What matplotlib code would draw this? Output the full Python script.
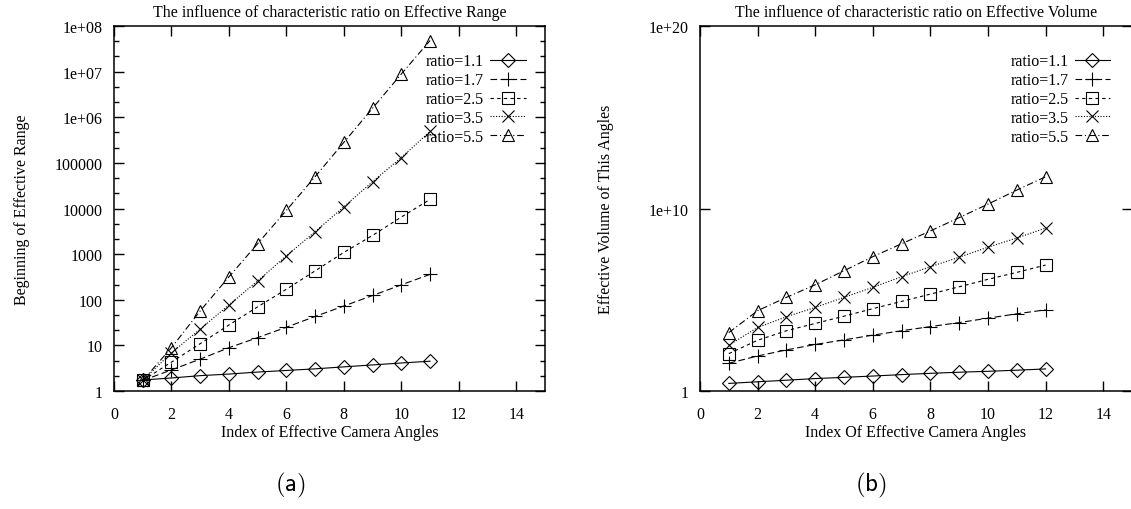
import numpy as np
import matplotlib
matplotlib.use('Agg')
import matplotlib.pyplot as plt
from matplotlib.ticker import FixedLocator, NullFormatter

plt.rcParams['font.family'] = ['Liberation Serif', 'DejaVu Serif']
plt.rcParams['axes.unicode_minus'] = False
plt.rcParams['mathtext.fontset'] = 'cm'

# --- data ---
ratios = ['ratio=1.1', 'ratio=1.7', 'ratio=2.5', 'ratio=3.5', 'ratio=5.5']

# (a) beginning of effective range
idx_a = [1, 2, 3, 4, 5, 6, 7, 8, 9, 10, 11]
range_11 = [1.74, 1.93, 2.17, 2.35, 2.6, 2.82, 3.06, 3.38, 3.73, 4.11, 4.5]
range_17 = [1.7, 2.9, 5.0, 8.9, 14.8, 25, 43, 73, 124, 212, 360]
range_25 = [1.7, 4.3, 10.9, 28, 70, 170, 430, 1090, 2570, 6500, 15800]
range_35 = [1.7, 6.9, 22.6, 77, 259, 917, 3100, 10900, 38700, 131000, 488000]
range_55 = [1.7, 8.9, 57, 318, 1700, 9100, 50000, 282000, 1.58e6, 8.9e6, 4.8e7]

# (b) effective volume
idx_b = [1, 2, 3, 4, 5, 6, 7, 8, 9, 10, 11, 12]
vol_11 = [2.6, 3.2, 3.9, 4.8, 5.6, 6.6, 7.9, 9.3, 10.7, 12.0, 13.8, 16.2]
vol_17 = [33, 83, 178, 355, 631, 1150, 2000, 3390, 5620, 9770, 1.7e4, 2.8e4]
vol_25 = [112, 603, 2000, 5010, 1.26e4, 3.24e4, 8.13e4, 2.04e5, 5.13e5, 1.32e6, 3.16e6, 7.94e6]
vol_35 = [324, 3020, 1.17e4, 3.8e4, 1.35e5, 4.79e5, 1.82e6, 6.46e6, 2.14e7, 7.6e7, 2.4e8, 8.5e8]
vol_55 = [1580, 2.51e4, 1.35e5, 6.61e5, 3.89e6, 2.29e7, 1.17e8, 5.9e8, 3.16e9, 1.74e10, 1.02e11, 5.5e11]

ytick_a = [1, 10, 100, 1000, 1e4, 1e5, 1e6, 1e7, 1e8]
ytick_a_lbl = ['1', '10', '100', '1000', '10000', '100000', '1e+06', '1e+07', '1e+08']
ytick_b = [1, 1e10, 1e20]
ytick_b_lbl = ['1', '1e+10', '1e+20']
xticks = [0, 2, 4, 6, 8, 10, 12, 14]

# gnuplot-ish styles
styles = [
    dict(marker='D', ms=7, ls='-'),
    dict(marker='+', ms=10, ls=(0, (6, 3))),
    dict(marker='s', ms=8.5, ls=(0, (3, 3))),
    dict(marker='x', ms=8.5, ls=(0, (1, 1.5))),
    dict(marker='^', ms=8.5, ls=(0, (6, 2.5, 1, 2.5))),
]

fs_tick = 11.5
fs_lab = 11.5
fs_title = 11.4

fig = plt.figure(figsize=(11.31, 5.10), dpi=100)
ax1 = fig.add_axes([114 / 1131, 1 - 392 / 510, 431 / 1131, 365 / 510])
ax2 = fig.add_axes([700 / 1131, 1 - 392 / 510, 432 / 1131, 365 / 510])


def draw(ax, xs, series, leg_x):
    for ys, lab, st in zip(series, ratios, styles):
        ax.plot(xs, ys, color='black', lw=0.8, mfc='none', mec='black', mew=0.8,
                marker=st['marker'], ms=st['ms'], ls=st['ls'], label=lab)
    ax.set_yscale('log')
    ax.set_xlim(0, 15)
    ax.set_xticks(xticks)
    ax.set_xticklabels([str(t) for t in xticks])
    ax.tick_params(which='both', direction='in', top=True, right=True,
                   labelsize=fs_tick, width=1.0)
    ax.tick_params(axis='x', which='major', length=7.5, pad=11)
    ax.tick_params(axis='y', which='major', length=7.5, pad=8)
    ax.tick_params(which='minor', length=3.5)
    for s in ax.spines.values():
        s.set_linewidth(1.1)
    ax.legend(loc='upper right', bbox_to_anchor=(leg_x, 0.925), frameon=False,
              markerfirst=False, fontsize=fs_lab, handlelength=2.2, handletextpad=0.4,
              labelspacing=0.18, borderpad=0, borderaxespad=0)


draw(ax1, idx_a, [range_11, range_17, range_25, range_35, range_55], 0.955)
ax1.set_ylim(1, 1e8)
ax1.set_yticks(ytick_a)
ax1.set_yticklabels(ytick_a_lbl)
minor_a = [10 ** (d + k / 3) for d in range(8) for k in (1, 2)]
ax1.yaxis.set_minor_locator(FixedLocator(minor_a))
ax1.yaxis.set_minor_formatter(NullFormatter())
ax1.set_title('The influence of characteristic ratio on Effective Range', fontsize=fs_title, pad=7)
ax1.set_xlabel('Index of Effective Camera Angles', fontsize=fs_lab)
ax1.set_ylabel('Beginning of Effective Range', fontsize=fs_lab)
ax1.xaxis.set_label_coords(0.5, -0.09)
ax1.yaxis.set_label_coords(-0.195, 0.5)

draw(ax2, idx_b, [vol_11, vol_17, vol_25, vol_35, vol_55], 0.949)
ax2.set_ylim(1, 1e20)
ax2.set_yticks(ytick_b)
ax2.set_yticklabels(ytick_b_lbl)
ax2.yaxis.set_minor_locator(FixedLocator([]))
ax2.set_title('The influence of characteristic ratio on Effective Volume', fontsize=fs_title, pad=7)
ax2.set_xlabel('Index Of Effective Camera Angles', fontsize=fs_lab)
ax2.set_ylabel('Effective Volume of This Angles', fontsize=fs_lab)
ax2.xaxis.set_label_coords(0.5, -0.09)
ax2.yaxis.set_label_coords(-0.2, 0.5)

fig.text(290 / 1131, 1 - 485 / 510, r'$\mathsf{(a)}$', ha='center', va='center', fontsize=18)
fig.text(871 / 1131, 1 - 485 / 510, r'$\mathsf{(b)}$', ha='center', va='center', fontsize=18)

fig.savefig('out.png', dpi=100)
